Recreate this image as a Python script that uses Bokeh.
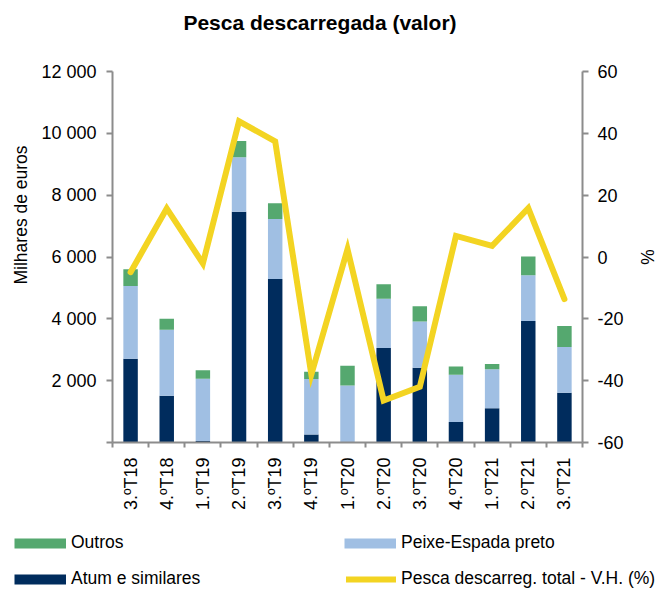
import math
from bokeh.plotting import figure
from bokeh.layouts import column
from bokeh.models import (Range1d, LinearAxis, FixedTicker, Legend, LegendItem,
                          ColumnDataSource, Label, Title)
from bokeh.embed import file_html
from bokeh.resources import INLINE

# ---- data ----
quarters = ["3.ºT18", "4.ºT18", "1.ºT19", "2.ºT19", "3.ºT19", "4.ºT19", "1.ºT20",
            "2.ºT20", "3.ºT20", "4.ºT20", "1.ºT21", "2.ºT21", "3.ºT21"]
atum = [2710, 1510, 50, 7460, 5290, 260, 10, 3060, 2420, 660, 1110, 3930, 1610]
peixe = [2350, 2140, 2010, 1770, 1940, 1790, 1830, 1590, 1490, 1530, 1260, 1480, 1480]
outros = [540, 350, 280, 520, 510, 240, 640, 470, 500, 270, 170, 610, 680]
vh = [-4.9, 15.7, -2.1, 43.9, 37.4, -38.0, 2.5, -46.4, -42.0, 6.8, 3.6, 15.8, -13.6]
left_ticks = [0, 2000, 4000, 6000, 8000, 10000, 12000]
left_tick_labels = ["", "2 000", "4 000", "6 000", "8 000", "10 000", "12 000"]
right_ticks = [-60, -40, -20, 0, 20, 40, 60]
right_tick_labels = ["-60", "-40", "-20", "0", "20", "40", "60"]
series_names = ["Outros", "Peixe-Espada preto", "Atum e similares",
                "Pesca descarreg. total - V.H. (%)"]
chart_title = "Pesca descarregada (valor)"
y_title = "Milhares de euros"
y2_title = "%"

FONT = "Liberation Sans"
AXIS_COLOR = "#8C8C8C"
NAVY = "#002C5D"
LBLUE = "#A0BFE3"
GREEN = "#55A86F"
YELLOW = "#F3D422"
W = 659
NAN = float("nan")


def no_align(f):
    if "frame_align" in f.properties():
        f.frame_align = False


def bare_fig(h):
    f = figure(width=W, height=h, output_backend="svg", toolbar_location=None,
               x_axis_location=None, y_axis_location=None, min_border=0,
               x_range=Range1d(0, 1), y_range=Range1d(0, 1))
    f.min_border_left = 0
    f.min_border_right = 0
    f.min_border_top = 0
    f.min_border_bottom = 0
    f.outline_line_color = None
    f.xgrid.visible = False
    f.ygrid.visible = False
    f.background_fill_color = "white"
    f.border_fill_color = "white"
    no_align(f)
    return f


# ---- title strip ----
p0 = bare_fig(45)
p0.add_layout(Label(x=319.5, y=23, x_units="screen", y_units="screen", text=chart_title,
                    text_align="center", text_baseline="middle", text_font=FONT,
                    text_font_size="21px", text_font_style="bold", text_color="black"))

# ---- main chart ----
x = list(range(len(quarters)))
src = ColumnDataSource(dict(x=x, atum=atum, peixe=peixe, outros=outros, vh=vh))

p = figure(width=W, height=475, output_backend="svg", toolbar_location=None,
           x_range=Range1d(-0.5, len(quarters) - 0.5), y_range=Range1d(0, 12000),
           min_border_left=110, min_border_right=74, min_border_top=26,
           min_border_bottom=78)
no_align(p)
p.extra_y_ranges = {"pct": Range1d(-60, 60)}
p.xgrid.visible = False
p.ygrid.visible = False
p.outline_line_color = None
p.background_fill_color = "white"
p.border_fill_color = "white"

bars = p.vbar_stack(["atum", "peixe", "outros"], x="x", width=0.4,
                    fill_color=[NAVY, LBLUE, GREEN], line_color=None, source=src)
line = p.line("x", "vh", source=src, y_range_name="pct", line_color=YELLOW,
              line_width=6, line_cap="round", line_join="miter")


def style_axis(ax):
    ax.axis_line_color = AXIS_COLOR
    ax.axis_line_width = 2
    ax.major_tick_line_color = AXIS_COLOR
    ax.major_tick_line_width = 2
    ax.minor_tick_line_color = AXIS_COLOR
    ax.minor_tick_line_width = 2
    ax.major_tick_in = 0
    ax.major_tick_out = 6
    ax.minor_tick_in = 0
    ax.minor_tick_out = 0
    ax.major_label_text_font = FONT
    ax.major_label_text_font_size = "18px"
    ax.major_label_text_color = "black"
    ax.axis_label_text_font = FONT
    ax.axis_label_text_font_size = "17.5px"
    ax.axis_label_text_font_style = "normal"
    ax.axis_label_text_color = "black"


yl = p.yaxis[0]
style_axis(yl)
yl.ticker = FixedTicker(ticks=left_ticks)
yl.major_label_overrides = dict(zip(left_ticks, left_tick_labels))
yl.major_label_standoff = 10

p.add_layout(Title(text=y_title, align="left", offset=158, standoff=16,
                   vertical_align="bottom", text_font=FONT, text_font_size="17.5px",
                   text_font_style="normal", text_color="black"), "left")

ra = LinearAxis(y_range_name="pct", ticker=FixedTicker(ticks=right_ticks), axis_label=y2_title)
style_axis(ra)
ra.major_label_overrides = dict(zip(right_ticks, right_tick_labels))
ra.major_label_standoff = 9
ra.axis_label_standoff = 10
p.add_layout(ra, "right")

xa = p.xaxis[0]
style_axis(xa)
xa.ticker = FixedTicker(ticks=x, minor_ticks=[i - 0.5 for i in range(len(quarters) + 1)])
xa.major_label_overrides = {i: q for i, q in enumerate(quarters)}
xa.major_tick_out = 0
xa.minor_tick_out = 5
xa.major_label_orientation = math.pi / 2
xa.major_label_standoff = 10

# ---- legend strip (proxies carry one hidden NaN point so legend swatches draw) ----
p2 = bare_fig(69)
prox_outros = p2.line(x=[NAN], y=[NAN], line_color=GREEN, line_width=10, line_cap="butt")
prox_peixe = p2.line(x=[NAN], y=[NAN], line_color=LBLUE, line_width=10, line_cap="butt")
prox_atum = p2.line(x=[NAN], y=[NAN], line_color=NAVY, line_width=10, line_cap="butt")
prox_line = p2.line(x=[NAN], y=[NAN], line_color=YELLOW, line_width=6, line_cap="round")


def add_legend(label, renderer, lx, ly, gw):
    lg = Legend(items=[LegendItem(label=label, renderers=[renderer])], location=(lx, ly),
                glyph_width=gw, glyph_height=20, label_height=20, label_standoff=5,
                padding=0, margin=0, spacing=0, border_line_color=None,
                background_fill_alpha=0, label_text_font=FONT,
                label_text_font_size="17.5px", label_text_color="black")
    p2.add_layout(lg, "center")


add_legend(series_names[0], prox_outros, 14, 36, 52)
add_legend(series_names[1], prox_peixe, 344, 36, 52)
add_legend(series_names[2], prox_atum, 14, 0, 52)
add_legend(series_names[3], prox_line, 346, 0, 50)

layout = column(p0, p, p2, spacing=0)
open("out.html", "w").write(file_html(layout, INLINE))
